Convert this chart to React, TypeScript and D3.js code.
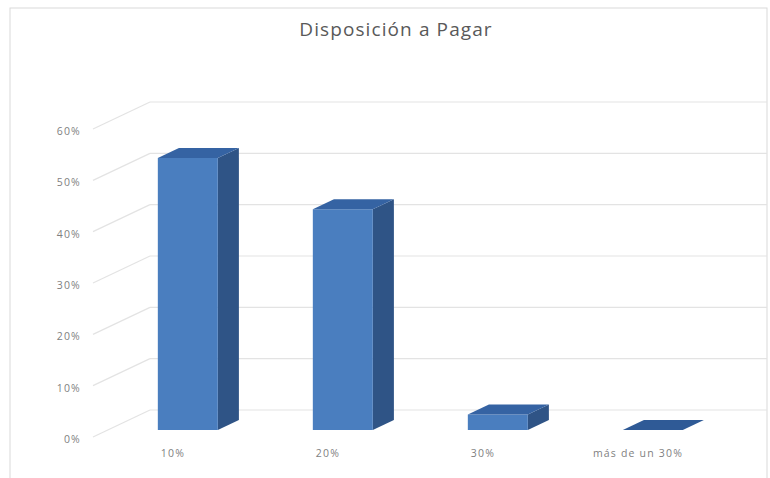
import React from "react";
import * as d3 from "d3";

const title = "Disposición a Pagar";
const categories = ["10%", "20%", "30%", "más de un 30%"];
const values = [0.53, 0.43, 0.03, 0.0];
const yTicks = [0, 0.1, 0.2, 0.3, 0.4, 0.5, 0.6];

const W = 770;
const H = 478;
// oblique projection parameters
const DX = 57;
const DY = 27;
const FRONT_Y = 437;
const Z0 = 0.26;
const Z1 = 0.63;

export default function App() {
  const x = d3.scaleBand<string>().domain(categories).range([95.5, 715.5]).padding(0);
  const h = d3.scaleLinear().domain([0, 0.6]).range([0, 308]);
  const barW = x.step() * 0.387;
  const P = (px: number, ph: number, z: number): [number, number] => [px + z * DX, FRONT_Y - ph - z * DY];
  const poly = (pts: [number, number][]) => d3.line()(pts.concat([pts[0]])) as string;
  const fmt = d3.format(".0%");
  const wallLeft = 93;
  const wallRight = 767;

  return (
    <svg width={W} height={H} style={{ position: "absolute", left: 0, top: 0 }} fontFamily="'Open Sans', sans-serif">
      <rect x={0} y={0} width={W} height={H} fill="#fff" />
      <rect x={10} y={8} width={757} height={475} fill="#fff" stroke="#d9d9d9" strokeWidth={1} />
      <text x={396} y={36} textAnchor="middle" fontSize={19} letterSpacing={1.1} fill="#595959">{title}</text>
      <g>
        {yTicks.map((t) => {
          const f = P(wallLeft, h(t), 0);
          const b = P(wallLeft, h(t), 1);
          return (
            <g key={t}>
              <line x1={f[0]} y1={f[1]} x2={b[0]} y2={b[1]} stroke="#e3e3e3" strokeWidth={1.2} />
              <line x1={b[0]} y1={b[1]} x2={wallRight} y2={b[1]} stroke="#e3e3e3" strokeWidth={1.2} />
              <text x={81} y={f[1] + 6} textAnchor="end" fontSize={10.5} letterSpacing={1.2} fill="#7f7f7f">{fmt(t)}</text>
            </g>
          );
        })}
      </g>
      <g>
        {categories.map((c, i) => {
          const cx = (x(c) as number) + x.bandwidth() / 2;
          const x0 = cx - barW / 2;
          const x1 = cx + barW / 2;
          const hv = h(values[i]);
          const front = [P(x0, 0, Z0), P(x1, 0, Z0), P(x1, hv, Z0), P(x0, hv, Z0)];
          const side = [P(x1, 0, Z0), P(x1, 0, Z1), P(x1, hv, Z1), P(x1, hv, Z0)];
          const top = [P(x0, hv, Z0), P(x1, hv, Z0), P(x1, hv, Z1), P(x0, hv, Z1)];
          return (
            <g key={c}>
              {hv > 0.5 && <path d={poly(side)} fill="#2f5486" />}
              {hv > 0.5 && <path d={poly(front)} fill="#4a7ebf" />}
              <path d={poly(top)} fill={hv > 0.5 ? "#3563a3" : "#2f5a96"} />
              <text x={cx} y={457} textAnchor="middle" fontSize={10.5} letterSpacing={1.2} fill="#7f7f7f">{c}</text>
            </g>
          );
        })}
      </g>
    </svg>
  );
}
